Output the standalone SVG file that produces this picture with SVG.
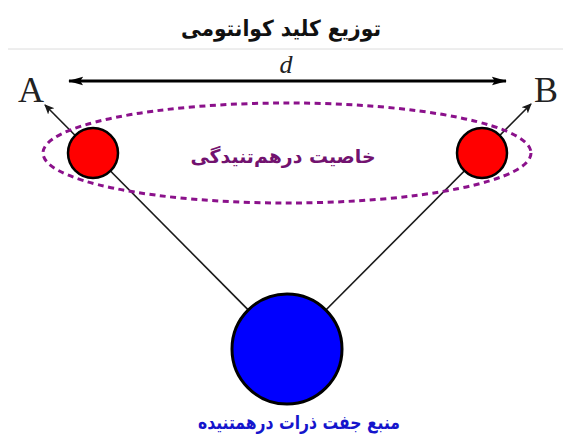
<svg xmlns="http://www.w3.org/2000/svg" width="563" height="440" viewBox="0 0 563 440">
<style>
.fa{font-family:"DejaVu Sans","Noto Sans",sans-serif;font-weight:bold;text-anchor:middle}
.lat{font-family:"Liberation Serif","DejaVu Serif",serif;text-anchor:middle;fill:#222}
.conn{stroke:#1a1a1a;stroke-width:1.6;fill:none}
.red{fill:#ff0000;stroke:#000;stroke-width:2.5}
</style>
<defs>
<marker id="ah" viewBox="0 0 10 10" refX="9" refY="5" markerWidth="10" markerHeight="10" markerUnits="userSpaceOnUse" orient="auto">
<path d="M0,0.5 L10,5 L0,9.5 L2.5,5 Z" fill="#1a1a1a"/>
</marker>
<marker id="dh" viewBox="0 0 16 10" refX="15" refY="5" markerWidth="15" markerHeight="10" markerUnits="userSpaceOnUse" orient="auto-start-reverse">
<path d="M0,0.5 L16,5 L0,9.5 L3,5 Z" fill="#000"/>
</marker>
</defs>
<rect width="563" height="440" fill="#fff"/>
<g id="title">
<text class="fa" x="281" y="36" font-size="22" fill="#111" direction="rtl" textLength="200" lengthAdjust="spacingAndGlyphs">توزیع کلید کوانتومی</text>
<line x1="8" y1="49" x2="563" y2="49" stroke="#dcdcdc" stroke-width="1"/>
</g>
<g id="distance">
<line x1="69" y1="81" x2="506" y2="81" stroke="#000" stroke-width="3" marker-start="url(#dh)" marker-end="url(#dh)"/>
<text class="lat" x="286" y="73" font-size="26" font-style="italic">d</text>
</g>
<g id="connectors">
<line class="conn" x1="287" y1="349" x2="45" y2="105" marker-end="url(#ah)"/>
<line class="conn" x1="287" y1="349" x2="531" y2="104" marker-end="url(#ah)"/>
</g>
<g id="entanglement">
<ellipse cx="287" cy="153" rx="244" ry="50" fill="none" stroke="#8b118b" stroke-width="3" stroke-dasharray="6 4.5"/>
<text class="fa" x="283" y="163" font-size="19" fill="#72126f" direction="rtl" textLength="185" lengthAdjust="spacingAndGlyphs">خاصیت درهم‌تنیدگی</text>
</g>
<g id="nodeA">
<circle class="red" cx="93" cy="153" r="25"/>
<text class="lat" x="31" y="102" font-size="36">A</text>
</g>
<g id="nodeB">
<circle class="red" cx="482" cy="153" r="25"/>
<text class="lat" x="546" y="102" font-size="36">B</text>
</g>
<g id="source">
<circle cx="287" cy="349" r="55" fill="#0000ff" stroke="#000" stroke-width="3"/>
<text class="fa" x="299" y="429" font-size="19" fill="#1515cc" direction="rtl" textLength="202" lengthAdjust="spacingAndGlyphs">منبع جفت ذرات درهمتنیده</text>
</g>
</svg>
